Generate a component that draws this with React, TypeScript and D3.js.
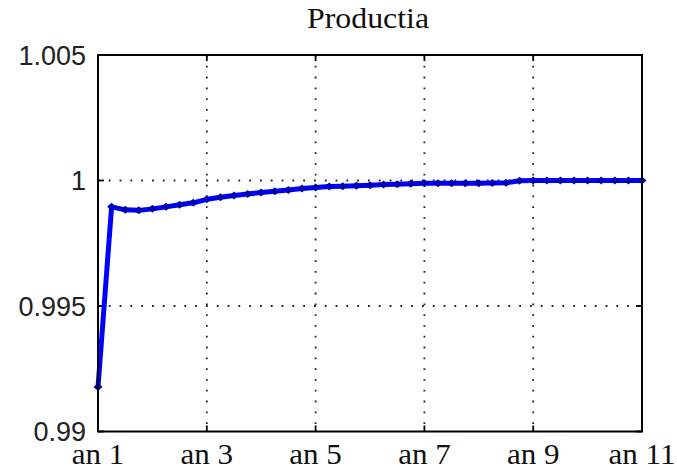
import React from "react";
import * as d3 from "d3";

// Quarterly production index, "an 1" through "an 11"
const production: number[] = [
  0.99177, 0.99895, 0.99883, 0.99881, 0.99887, 0.99895, 0.99903, 0.99911,
  0.99925, 0.99933, 0.9994, 0.99946, 0.99952, 0.99957, 0.99962, 0.99968,
  0.99972, 0.99976, 0.99977, 0.99979, 0.99981, 0.99984, 0.99985, 0.99987,
  0.99989, 0.99989, 0.99989, 0.99989, 0.99989, 0.9999, 0.99991, 0.99999,
  1.0, 1.0, 1.0, 1.0, 1.0, 1.0, 1.0, 1.0, 1.0,
];

const xTickValues: number[] = [1, 3, 5, 7, 9, 11];
const xTickLabels: string[] = ["an 1", "an 3", "an 5", "an 7", "an 9", "an 11"];
const yTickValues: number[] = [0.99, 0.995, 1, 1.005];
const yTickLabels: string[] = ["0.99", "0.995", "1", "1.005"];
const title = "Productia";

const W = 677;
const H = 470;
const left = 98;
const right = 642;
const top = 55;
const bottom = 431.5;

export default function App() {
  const x = d3.scaleLinear().domain([1, 11]).range([left, right]);
  const y = d3.scaleLinear().domain([0.99, 1.005]).range([bottom, top]);

  // one point per quarter
  const pts: [number, number][] = production.map((v, i) => [1 + i / 4, v]);
  const line = d3
    .line<[number, number]>()
    .x((d) => x(d[0]))
    .y((d) => y(d[1]));

  const diamond = (cx: number, cy: number) =>
    `M${cx - 4.5},${cy} L${cx},${cy - 4} L${cx + 4.5},${cy} L${cx},${cy + 4} Z`;

  const tickLen = 6;

  return (
    <svg
      width={W}
      height={H}
      style={{ position: "fixed", left: 0, top: 0, background: "#fff" }}
    >
      <rect x={0} y={0} width={W} height={H} fill="#fff" />

      {/* dotted grid */}
      {xTickValues.slice(1, -1).map((v) => (
        <line
          key={"gx" + v}
          x1={x(v)}
          x2={x(v)}
          y1={top}
          y2={bottom}
          stroke="#222"
          strokeWidth={1.8}
          strokeDasharray="1.8 9"
        />
      ))}
      {yTickValues.slice(1, -1).map((v) => (
        <line
          key={"gy" + v}
          x1={left}
          x2={right}
          y1={y(v)}
          y2={y(v)}
          stroke="#222"
          strokeWidth={1.8}
          strokeDasharray="1.8 9"
        />
      ))}

      {/* tick marks on all four sides */}
      {xTickValues.map((v) => (
        <g key={"tx" + v} stroke="#000" strokeWidth={1.8}>
          <line x1={x(v)} x2={x(v)} y1={bottom} y2={bottom - tickLen} />
          <line x1={x(v)} x2={x(v)} y1={top} y2={top + tickLen} />
        </g>
      ))}
      {yTickValues.map((v) => (
        <g key={"ty" + v} stroke="#000" strokeWidth={1.8}>
          <line x1={left} x2={left + tickLen} y1={y(v)} y2={y(v)} />
          <line x1={right} x2={right - tickLen} y1={y(v)} y2={y(v)} />
        </g>
      ))}

      {/* series */}
      <path
        d={line(pts) || ""}
        fill="none"
        stroke="#0000ff"
        strokeWidth={5}
        strokeLinejoin="round"
      />
      {pts.map((d, i) => (
        <path key={"m" + i} d={diamond(x(d[0]), y(d[1]))} fill="#0000b0" />
      ))}

      {/* axes box */}
      <rect
        x={left}
        y={top}
        width={right - left}
        height={bottom - top}
        fill="none"
        stroke="#000"
        strokeWidth={2}
      />

      {/* y tick labels */}
      {yTickValues.map((v, i) => (
        <text
          key={"ly" + v}
          x={86}
          y={y(v) + 9.8}
          textAnchor="end"
          fontFamily="'Liberation Sans', Arial, sans-serif"
          fontSize={27}
          fill="#222"
        >
          {yTickLabels[i]}
        </text>
      ))}

      {/* x tick labels */}
      {xTickValues.map((v, i) => (
        <text
          key={"lx" + v}
          transform={`translate(${x(v)},${464}) scale(1.07,1)`}
          textAnchor="middle"
          fontFamily="'Liberation Serif', 'Times New Roman', serif"
          fontSize={29}
          fill="#111"
        >
          {xTickLabels[i]}
        </text>
      ))}

      {/* title */}
      <text
        transform={`translate(${368},${28}) scale(1.1,1)`}
        textAnchor="middle"
        fontFamily="'Liberation Serif', 'Times New Roman', serif"
        fontSize={29}
        fill="#111"
      >
        {title}
      </text>
    </svg>
  );
}
